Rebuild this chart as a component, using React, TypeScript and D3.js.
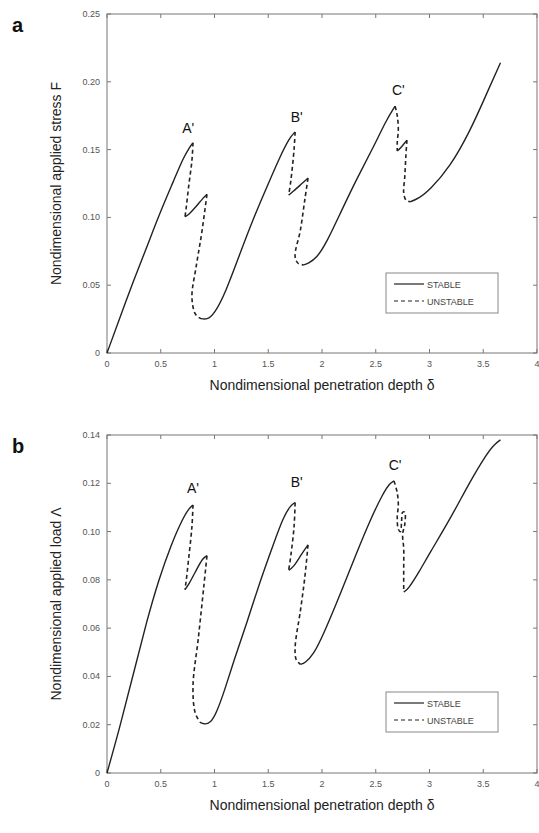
import React from "react";
import * as d3 from "d3";

type Pt = [number, number];

// x tick values shared by both panels
const xTicks = [0, 0.5, 1, 1.5, 2, 2.5, 3, 3.5, 4];
const aTicks = [0, 0.05, 0.1, 0.15, 0.2, 0.25];
const bTicks = [0, 0.02, 0.04, 0.06, 0.08, 0.1, 0.12, 0.14];

// panel a: nondimensional applied stress F
const aStable1: Pt[] = [[0, 0], [0.12, 0.026], [0.245, 0.053], [0.37, 0.078], [0.49, 0.103], [0.62, 0.127], [0.71, 0.144], [0.77, 0.152], [0.8, 0.155]];
const aUnstable1: Pt[] = [[0.8, 0.155], [0.79, 0.142], [0.76, 0.123], [0.735, 0.106], [0.726, 0.1005]];
const aStable2: Pt[] = [[0.726, 0.1005], [0.76, 0.102], [0.83, 0.108], [0.89, 0.114], [0.93, 0.117]];
const aUnstable2: Pt[] = [[0.93, 0.117], [0.88, 0.088], [0.83, 0.064], [0.79, 0.0415], [0.82, 0.029], [0.865, 0.0256]];
const aStable3: Pt[] = [[0.865, 0.0256], [0.93, 0.0243], [1.0, 0.029], [1.1, 0.044], [1.24, 0.074], [1.36, 0.099], [1.49, 0.123], [1.61, 0.145], [1.7, 0.159], [1.75, 0.163]];
const aUnstable3: Pt[] = [[1.75, 0.163], [1.74, 0.15], [1.71, 0.127], [1.69, 0.1165]];
const aStable4: Pt[] = [[1.69, 0.1165], [1.73, 0.119], [1.8, 0.124], [1.87, 0.129]];
const aUnstable4: Pt[] = [[1.87, 0.129], [1.84, 0.113], [1.8, 0.091], [1.75, 0.071], [1.78, 0.066], [1.83, 0.065]];
const aStable5: Pt[] = [[1.83, 0.065], [1.87, 0.066], [1.95, 0.07], [2.04, 0.081], [2.17, 0.103], [2.32, 0.128], [2.48, 0.152], [2.6, 0.172], [2.68, 0.182]];
const aUnstable5: Pt[] = [[2.68, 0.182], [2.7, 0.175], [2.71, 0.165], [2.7, 0.155], [2.7, 0.149]];
const aStable6: Pt[] = [[2.7, 0.149], [2.73, 0.151], [2.77, 0.155], [2.79, 0.157]];
const aUnstable6: Pt[] = [[2.79, 0.157], [2.78, 0.145], [2.77, 0.13], [2.76, 0.118], [2.78, 0.113], [2.82, 0.1115]];
const aStable7: Pt[] = [[2.82, 0.1115], [2.9, 0.114], [3.0, 0.12], [3.19, 0.137], [3.38, 0.164], [3.53, 0.191], [3.66, 0.214]];

// panel b: nondimensional applied load Λ
const bStable1: Pt[] = [[0, 0], [0.12, 0.019], [0.245, 0.041], [0.37, 0.063], [0.48, 0.08], [0.6, 0.095], [0.7, 0.105], [0.76, 0.1095], [0.8, 0.111]];
const bUnstable1: Pt[] = [[0.8, 0.111], [0.79, 0.102], [0.76, 0.089], [0.735, 0.079], [0.725, 0.076]];
const bStable2: Pt[] = [[0.725, 0.076], [0.76, 0.078], [0.83, 0.084], [0.89, 0.089], [0.93, 0.09]];
const bUnstable2: Pt[] = [[0.93, 0.09], [0.9, 0.077], [0.85, 0.056], [0.8, 0.036], [0.82, 0.025], [0.865, 0.021]];
const bStable3: Pt[] = [[0.865, 0.021], [0.9, 0.0202], [0.96, 0.0205], [1.02, 0.025], [1.1, 0.035], [1.175, 0.046], [1.3, 0.062], [1.42, 0.079], [1.55, 0.095], [1.64, 0.106], [1.71, 0.111], [1.75, 0.112]];
const bUnstable3: Pt[] = [[1.75, 0.112], [1.74, 0.102], [1.71, 0.09], [1.69, 0.084]];
const bStable4: Pt[] = [[1.69, 0.084], [1.73, 0.085], [1.8, 0.09], [1.87, 0.0945]];
const bUnstable4: Pt[] = [[1.87, 0.0945], [1.84, 0.081], [1.8, 0.0675], [1.75, 0.052], [1.76, 0.047], [1.8, 0.045]];
const bStable5: Pt[] = [[1.8, 0.045], [1.84, 0.0455], [1.92, 0.049], [2.01, 0.057], [2.17, 0.074], [2.32, 0.091], [2.45, 0.105], [2.57, 0.116], [2.63, 0.12], [2.67, 0.121]];
const bUnstable5: Pt[] = [[2.67, 0.121], [2.7, 0.116], [2.71, 0.111], [2.7, 0.106], [2.71, 0.101], [2.73, 0.1], [2.74, 0.104], [2.75, 0.108], [2.77, 0.108], [2.77, 0.103], [2.75, 0.099], [2.76, 0.093], [2.76, 0.084], [2.76, 0.075]];
const bStable6: Pt[] = [[2.76, 0.075], [2.8, 0.076], [2.9, 0.083], [3.0, 0.091], [3.19, 0.105], [3.38, 0.121], [3.53, 0.132], [3.6, 0.136], [3.66, 0.138]];

// peak labels, in data coordinates
const peakNames = ["A'", "B'", "C'"];
const aPeaks: Pt[] = [[0.756, 0.162], [1.765, 0.1705], [2.71, 0.19]];
const bPeaks: Pt[] = [[0.8, 0.116], [1.765, 0.1185], [2.68, 0.1255]];

const font = "'Liberation Sans', Arial, sans-serif";
const ink = "#222";

interface PanelProps {
  top: number;
  bottom: number;
  yMax: number;
  yTicks: number[];
  stable: Pt[][];
  unstable: Pt[][];
  peaks: Pt[];
  letter: string;
  yLabel: string;
  legendY: number;
}

const Panel: React.FC<PanelProps> = ({ top, bottom, yMax, yTicks, stable, unstable, peaks, letter, yLabel, legendY }) => {
  const left = 107;
  const right = 537;
  const x = d3.scaleLinear().domain([0, 4]).range([left, right]);
  const y = d3.scaleLinear().domain([0, yMax]).range([bottom, top]);
  // stable branches are smooth, so a basis spline; dashed branches need to hit their turning points
  const smooth = d3
    .line<Pt>()
    .x((d) => x(d[0]))
    .y((d) => y(d[1]))
    .curve(d3.curveBasis);
  const through = d3
    .line<Pt>()
    .x((d) => x(d[0]))
    .y((d) => y(d[1]))
    .curve(d3.curveCatmullRom.alpha(0.5));
  const fmtY = (v: number) => (v === 0 ? "0" : v.toFixed(2));
  const tl = 4;
  const legX = 386;
  return (
    <g>
      <text x={12} y={top + 18} fontFamily={font} fontWeight="bold" fontSize={20} fill="#111">
        {letter}
      </text>
      <rect x={left} y={top} width={right - left} height={bottom - top} fill="none" stroke="#777" strokeWidth={1} />
      {xTicks.map((t) => (
        <g key={"x" + t}>
          <line x1={x(t)} x2={x(t)} y1={bottom} y2={bottom - tl} stroke="#777" />
          <line x1={x(t)} x2={x(t)} y1={top} y2={top + tl} stroke="#777" />
          <text x={x(t)} y={bottom + 14} textAnchor="middle" fontFamily={font} fontSize={9} fill="#555">
            {String(t)}
          </text>
        </g>
      ))}
      {yTicks.map((t) => (
        <g key={"y" + t}>
          <line x1={left} x2={left + tl} y1={y(t)} y2={y(t)} stroke="#777" />
          <line x1={right} x2={right - tl} y1={y(t)} y2={y(t)} stroke="#777" />
          <text x={left - 7} y={y(t) + 3} textAnchor="end" fontFamily={font} fontSize={9} fill="#555">
            {fmtY(t)}
          </text>
        </g>
      ))}
      {stable.map((s, i) => (
        <path key={"s" + i} d={smooth(s) || ""} fill="none" stroke={ink} strokeWidth={1.4} />
      ))}
      {unstable.map((s, i) => (
        <path key={"u" + i} d={through(s) || ""} fill="none" stroke={ink} strokeWidth={1.6} strokeDasharray="4,3" />
      ))}
      {peaks.map((p, i) => (
        <text key={"p" + i} x={x(p[0])} y={y(p[1])} textAnchor="middle" fontFamily={font} fontSize={14} fill="#111">
          {peakNames[i]}
        </text>
      ))}
      <text x={(left + right) / 2} y={bottom + 37} textAnchor="middle" fontFamily={font} fontSize={14} fill={ink}>
        Nondimensional penetration depth δ
      </text>
      <text
        transform={`translate(61,${(top + bottom) / 2}) rotate(-90)`}
        textAnchor="middle"
        fontFamily={font}
        fontSize={14}
        fill={ink}
      >
        {yLabel}
      </text>
      <g>
        <rect x={legX} y={legendY} width={112} height={40} fill="#fff" stroke="#888" />
        <line x1={legX + 8} x2={legX + 38} y1={legendY + 11} y2={legendY + 11} stroke={ink} strokeWidth={1.2} />
        <text x={legX + 41} y={legendY + 14.5} fontFamily={font} fontSize={9} fill="#444">
          STABLE
        </text>
        <line x1={legX + 8} x2={legX + 38} y1={legendY + 28} y2={legendY + 28} stroke={ink} strokeWidth={1.2} strokeDasharray="4,3" />
        <text x={legX + 41} y={legendY + 31.5} fontFamily={font} fontSize={9} fill="#444">
          UNSTABLE
        </text>
      </g>
    </g>
  );
};

const App: React.FC = () => {
  return (
    <svg width={539} height={833} style={{ position: "absolute", left: 0, top: 0, background: "#fff" }}>
      <rect width={539} height={833} fill="#fff" />
      <Panel
        top={14}
        bottom={353}
        yMax={0.25}
        yTicks={aTicks}
        stable={[aStable1, aStable2, aStable3, aStable4, aStable5, aStable6, aStable7]}
        unstable={[aUnstable1, aUnstable2, aUnstable3, aUnstable4, aUnstable5, aUnstable6]}
        peaks={aPeaks}
        letter="a"
        yLabel="Nondimensional applied stress F"
        legendY={273}
      />
      <Panel
        top={435}
        bottom={773}
        yMax={0.14}
        yTicks={bTicks}
        stable={[bStable1, bStable2, bStable3, bStable4, bStable5, bStable6]}
        unstable={[bUnstable1, bUnstable2, bUnstable3, bUnstable4, bUnstable5]}
        peaks={bPeaks}
        letter="b"
        yLabel="Nondimensional applied load Λ"
        legendY={692}
      />
    </svg>
  );
};

export default App;
